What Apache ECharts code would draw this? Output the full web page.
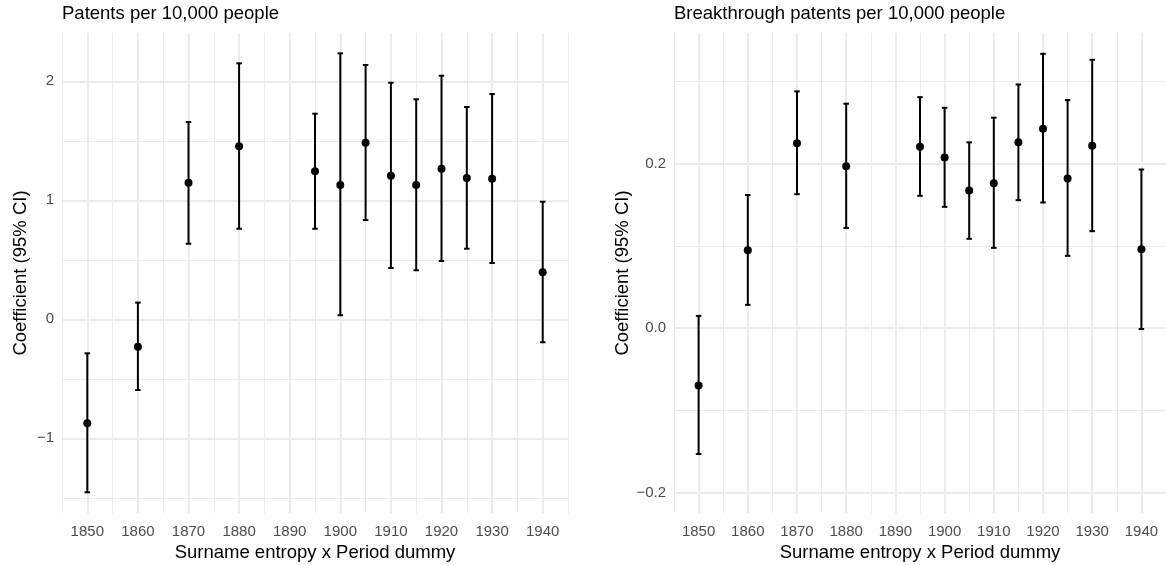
<!DOCTYPE html>
<html>
<head>
<meta charset="utf-8">
<script src="https://cdn.jsdelivr.net/npm/echarts@6/dist/echarts.min.js"></script>
<style>html,body{margin:0;padding:0;background:#fff;}#c{width:1166px;height:565px;}</style>
</head>
<body>
<div id="c"></div>
<script>
const years = [1850,1860,1870,1880,1895,1900,1905,1910,1915,1920,1925,1930,1940];
const patEst = [-0.874,-0.230,1.148,1.454,1.244,1.129,1.484,1.207,1.129,1.266,1.187,1.182,0.395];
const patLo  = [-1.454,-0.594,0.635,0.761,0.761,0.034,0.834,0.431,0.412,0.490,0.593,0.473,-0.193];
const patHi  = [-0.286,0.140,1.658,2.151,1.728,2.235,2.137,1.988,1.849,2.047,1.784,1.893,0.988];
const brkEst = [-0.0697,0.0949,0.225,0.197,0.2206,0.2076,0.1675,0.1764,0.226,0.2425,0.1821,0.2218,0.0961];
const brkLo  = [-0.153,0.0284,0.163,0.122,0.161,0.1476,0.1087,0.0977,0.1557,0.1529,0.088,0.118,-0.001];
const brkHi  = [0.015,0.162,0.288,0.273,0.281,0.268,0.226,0.256,0.2964,0.3337,0.2774,0.3264,0.193];
const xMajor = [1850,1860,1870,1880,1890,1900,1910,1920,1930,1940];
const xMinor = [1845,1855,1865,1875,1885,1895,1905,1915,1925,1935,1945];
const patMajor = [-1,0,1,2];
const patMinor = [-1.5,-0.5,0.5,1.5];
const brkMajor = [-0.2,0,0.2];
const brkMinor = [-0.1,0.1,0.3];
const titles = ['Patents per 10,000 people','Breakthrough patents per 10,000 people'];
const xTitle = 'Surname entropy x Period dummy';
const yTitle = 'Coefficient (95% CI)';

const FONT = '"Liberation Sans", Arial, sans-serif';
const GRID = '#EBEBEB';
const X_MIN = 1845, X_MAX = 1945;

function errRenderItem(params, api) {
  const x = api.value(0), lo = api.value(1), hi = api.value(2);
  const pLo = api.coord([x, lo]), pHi = api.coord([x, hi]);
  const w = 2.75;
  const style = {stroke:'#000', lineWidth:2, fill:null};
  return {type:'group', children:[
    {type:'line', shape:{x1:pLo[0],y1:pLo[1],x2:pHi[0],y2:pHi[1]}, style:style},
    {type:'line', shape:{x1:pLo[0]-w,y1:pLo[1],x2:pLo[0]+w,y2:pLo[1]}, style:style},
    {type:'line', shape:{x1:pHi[0]-w,y1:pHi[1],x2:pHi[0]+w,y2:pHi[1]}, style:style}
  ]};
}

function xMajorAxis(gi) {
  return {
    type:'value', gridIndex:gi, min:X_MIN, max:X_MAX, position:'bottom',
    name:xTitle, nameLocation:'middle', nameGap:24,
    nameTextStyle:{fontFamily:FONT, fontSize:18.5, color:'#000'},
    axisLine:{show:false}, axisTick:{show:false, customValues:xMajor},
    axisLabel:{fontFamily:FONT, fontSize:15, color:'#4D4D4D', margin:11, customValues:xMajor,
      formatter: v => String(v)},
    splitLine:{show:true, lineStyle:{color:GRID, width:2}}
  };
}
function xMinorAxis(gi) {
  return {
    type:'value', gridIndex:gi, min:X_MIN, max:X_MAX, position:'bottom',
    axisLine:{show:false}, axisTick:{show:false, customValues:xMinor},
    axisLabel:{show:false},
    splitLine:{show:true, lineStyle:{color:GRID, width:1}}
  };
}
function yMajorAxis(gi, mn, mx, ticks, fmt, gap) {
  return {
    type:'value', gridIndex:gi, min:mn, max:mx, position:'left',
    name:yTitle, nameLocation:'middle', nameGap:gap, nameRotate:90,
    nameTextStyle:{fontFamily:FONT, fontSize:18.5, color:'#000'},
    axisLine:{show:false},
    axisTick:{show:false, customValues:ticks},
    axisLabel:{fontFamily:FONT, fontSize:15, color:'#4D4D4D', margin:8, customValues:ticks, formatter:fmt},
    splitLine:{show:true, lineStyle:{color:GRID, width:2}}
  };
}
function yMinorAxis(gi, mn, mx, ticks) {
  return {
    type:'value', gridIndex:gi, min:mn, max:mx, position:'left',
    axisLine:{show:false},
    axisTick:{show:false, customValues:ticks},
    axisLabel:{show:false},
    splitLine:{show:true, lineStyle:{color:GRID, width:1}}
  };
}
const minus = s => s.replace('-', '\u2212');
const PAT_MIN = -1.628, PAT_MAX = 2.406, BRK_MIN = -0.2247, BRK_MAX = 0.359;

const chart = echarts.init(document.getElementById('c'), null, {renderer:'canvas'});
chart.setOption({
  animation:false,
  backgroundColor:'#fff',
  title:[
    {text:titles[0], left:62, top:4, padding:0, textStyle:{fontFamily:FONT, fontSize:18.5, fontWeight:'normal', color:'#000'}},
    {text:titles[1], left:674, top:4, padding:0, textStyle:{fontFamily:FONT, fontSize:18.5, fontWeight:'normal', color:'#000'}}
  ],
  grid:[
    {left:62, top:33, width:506, height:480, containLabel:false, outerBoundsMode:'none'},
    {left:674, top:33, width:492, height:480, containLabel:false, outerBoundsMode:'none'}
  ],
  xAxis:[xMajorAxis(0), xMinorAxis(0), xMajorAxis(1), xMinorAxis(1)],
  yAxis:[
    yMajorAxis(0, PAT_MIN, PAT_MAX, patMajor, v => minus(String(Math.round(v))), 32),
    yMinorAxis(0, PAT_MIN, PAT_MAX, patMinor),
    yMajorAxis(1, BRK_MIN, BRK_MAX, brkMajor, v => minus(v.toFixed(1)), 40),
    yMinorAxis(1, BRK_MIN, BRK_MAX, brkMinor)
  ],
  series:[
    {type:'custom', xAxisIndex:0, yAxisIndex:0, renderItem:errRenderItem,
      encode:{x:0, y:[1,2]}, data: years.map((y,i)=>[y, patLo[i], patHi[i]]), z:2},
    {type:'scatter', xAxisIndex:0, yAxisIndex:0, symbol:'circle', symbolSize:8,
      itemStyle:{color:'#000', opacity:1}, data: years.map((y,i)=>[y, patEst[i]]), z:3},
    {type:'custom', xAxisIndex:2, yAxisIndex:2, renderItem:errRenderItem,
      encode:{x:0, y:[1,2]}, data: years.map((y,i)=>[y, brkLo[i], brkHi[i]]), z:2},
    {type:'scatter', xAxisIndex:2, yAxisIndex:2, symbol:'circle', symbolSize:8,
      itemStyle:{color:'#000', opacity:1}, data: years.map((y,i)=>[y, brkEst[i]]), z:3}
  ]
});
</script>
</body>
</html>
